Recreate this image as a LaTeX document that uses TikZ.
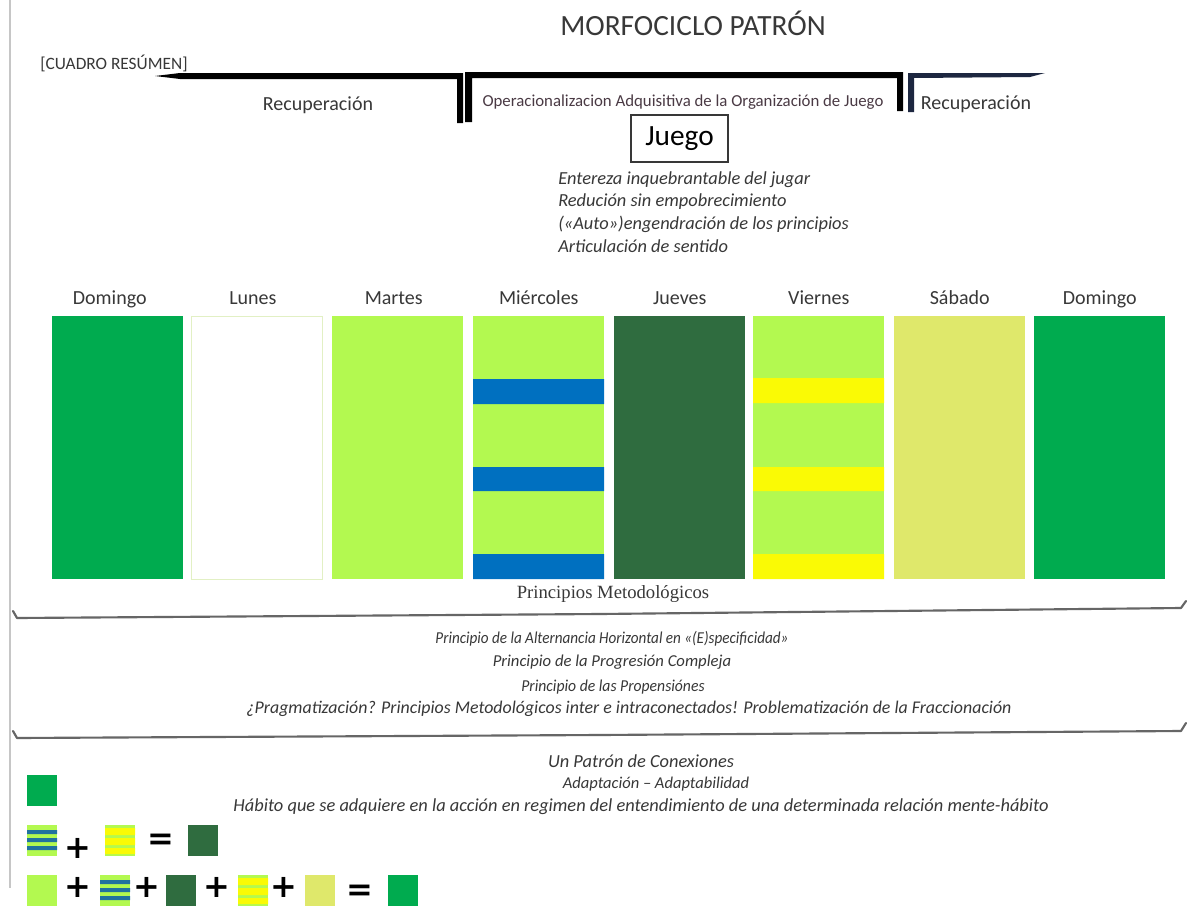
\documentclass[tikz,border=0pt]{standalone}
\usepackage{fontspec}
\setmainfont{Carlito}
\newfontfamily\serifa{Liberation Serif}
\newfontfamily\signos{DejaVu Sans}
\usetikzlibrary{positioning}

\definecolor{verde}{HTML}{00AB4F}
\definecolor{lima}{HTML}{B3F950}
\definecolor{azul}{HTML}{0070C0}
\definecolor{azulleg}{HTML}{21739F}
\definecolor{oscuro}{HTML}{2F6C3F}
\definecolor{amarillo}{HTML}{FAFA05}
\definecolor{sabado}{HTML}{DFE86B}
\definecolor{texto}{HTML}{383838}
\definecolor{granate}{HTML}{4A3A44}
\definecolor{marino}{HTML}{1D2740}
\definecolor{lunesborde}{HTML}{E2F0C4}

\begin{document}
\begin{tikzpicture}[x=0.75pt, y=-0.75pt,
    dia/.style={font=\fontsize{15}{18}\selectfont, text=texto, inner sep=0pt,
      text height=0.75em, text depth=0.25em},
    barra/.style={anchor=north west, inner sep=0pt,
      minimum width=98.25pt, minimum height=197.25pt},
    nota/.style={font=\fontsize{13.8}{16}\selectfont\itshape, text=texto, inner sep=0pt},
    cuadro/.style={anchor=north west, inner sep=0pt,
      minimum width=22.5pt, minimum height=23pt},
    signo/.style={font=\signos\bfseries\fontsize{24}{24}\selectfont, inner sep=0pt},
    borde/.style={line width=1.6pt, color=black!60, line cap=round, line join=round}]

    \useasboundingbox (0,0) rectangle (1204,907);
    \fill[white] (0,0) rectangle (1204,907);
    \draw[gray!45, line width=1pt] (10,0) -- (10,888);

    % cabecera
    \node[font=\fontsize{22}{26}\selectfont, text=texto] (titulo) at (693,23) {MORFOCICLO PATRÓN};
    \node[font=\fontsize{13}{15}\selectfont, text=texto] (cuadro) at (114,63) {[CUADRO RESÚMEN]};

    \fill[black] (155,76) -- (180,73) -- (463,73) -- (463,123) -- (457,123)
      -- (457,79) -- (180,79) -- cycle;
    \fill[black] (465,122) -- (465,72) -- (903,72) -- (903,111) -- (897,111)
      -- (897,78) -- (472,78) -- (472,122) -- cycle;
    \fill[marino] (908,112) -- (908,73) -- (1045,73) -- (1030,77) -- (914,78)
      -- (914,112) -- cycle;

    \node[font=\fontsize{15}{18}\selectfont, text=texto] (rec1) at (318,105) {Recuperación};
    \node[font=\fontsize{12.6}{15}\selectfont, text=granate] (oper) at (683,102)
      {Operacionalizacion Adquisitiva de la Organización de Juego};
    \node[font=\fontsize{15}{18}\selectfont, text=texto] (rec2) at (976,104) {Recuperación};

    \node[draw=texto, line width=1.2pt, minimum width=72.75pt, minimum height=35.25pt,
      inner sep=0pt, font=\fontsize{22}{26}\selectfont, text=black] (juego) at (679.5,138.5) {Juego};

    \node[nota, anchor=west] (ent) at (558,180) {Entereza inquebrantable del jugar};
    \node[nota, anchor=west] (red) at (558,202) {Redución sin empobrecimiento};
    \node[nota, anchor=west] (auto) at (558,224) {(«Auto»)engendración de los principios};
    \node[nota, anchor=west] (art) at (558,246) {Articulación de sentido};

    % semana
    \node[barra, fill=verde] (dom1) at (52,316) {};
    \node[barra, fill=white, draw=lunesborde, line width=0.6pt] (lun) at (191,316) {};
    \node[barra, fill=lima] (mar) at (332,316) {};
    \node[barra, fill=lima] (mie) at (473,316) {};
    \node[barra, fill=oscuro] (jue) at (614,316) {};
    \node[barra, fill=lima] (vie) at (753,316) {};
    \node[barra, fill=sabado] (sab) at (894,316) {};
    \node[barra, fill=verde] (dom2) at (1034,316) {};

    \fill[azul] (473,379) rectangle (604,404)
      (473,467) rectangle (604,491)
      (473,554) rectangle (604,579);
    \fill[amarillo] (753,378) rectangle (884,403)
      (753,467) rectangle (884,491)
      (753,554) rectangle (884,579);

    \node[dia, above=6pt of dom1, xshift=-6pt] (tdom1) {Domingo};
    \node[dia, above=6pt of lun, xshift=-3pt] (tlun) {Lunes};
    \node[dia, above=6pt of mar, xshift=-3pt] (tmar) {Martes};
    \node[dia, above=6pt of mie] (tmie) {Miércoles};
    \node[dia, above=6pt of jue] (tjue) {Jueves};
    \node[dia, above=6pt of vie] (tvie) {Viernes};
    \node[dia, above=6pt of sab] (tsab) {Sábado};
    \node[dia, above=6pt of dom2] (tdom2) {Domingo};

    % principios
    \node[font=\serifa\fontsize{14}{16}\selectfont, text=texto] (princ) at (613,594) {Principios Metodológicos};
    \draw[borde] (13,611) -- (17,618) -- (600,614) -- (1181,608) -- (1186,601);

    \node[nota, font=\fontsize{12.5}{15}\selectfont\itshape] (alt) at (612,639)
      {\scalebox{0.91}[1]{Principio de la Alternancia Horizontal en «(E)specificidad»}};
    \node[nota, font=\fontsize{12.5}{15}\selectfont\itshape] (prog) at (612,662) {Principio de la Progresión Compleja};
    \node[nota, font=\fontsize{12.5}{15}\selectfont\itshape] (prop) at (613,687)
      {\scalebox{0.94}[1]{Principio de las Propensiónes}};
    \node[nota, font=\fontsize{13.4}{15}\selectfont\itshape] (prag) at (629,709) {¿Pragmatización? Principios Metodológicos inter e intraconectados! Problematización de la Fraccionación};
    \draw[borde] (13,731) -- (17,738) -- (600,735) -- (1181,731) -- (1186,723);

    \node[nota] (patron) at (641,761) {Un Patrón de Conexiones};
    \node[nota, font=\fontsize{12.4}{15}\selectfont\itshape] (adap) at (656,784) {Adaptación – Adaptabilidad};
    \node[nota] (habito) at (641,807) {Hábito que se adquiere en la acción en regimen del entendimiento de una determinada relación mente-hábito};

    % leyenda
    \node[cuadro, fill=verde] (leg1) at (27,775) {};

    \node[cuadro, fill=lima] (leg2a) at (27,825) {};
    \fill[azulleg] (27,830) rectangle (57,834) (27,838) rectangle (57,842) (27,846) rectangle (57,850);
    \node[signo] (mas1) at (78,848) {+};
    \node[cuadro, fill=lima] (leg2b) at (105,825) {};
    \fill[amarillo] (105,828) rectangle (135,835) (105,838) rectangle (135,845) (105,848) rectangle (135,854);
    \node[signo] (igual1) at (161,842) {=};
    \node[cuadro, fill=oscuro] (leg2c) at (188,825) {};

    \node[cuadro, fill=lima] (leg3a) at (27,875) {};
    \node[signo] (mas2) at (78,887) {+};
    \node[cuadro, fill=lima] (leg3b) at (100,875) {};
    \fill[azulleg] (100,880) rectangle (130,884) (100,888) rectangle (130,892) (100,896) rectangle (130,900);
    \node[signo] (mas3) at (147,887) {+};
    \node[cuadro, fill=oscuro] (leg3c) at (166,875) {};
    \node[signo] (mas4) at (217,887) {+};
    \node[cuadro, fill=lima] (leg3d) at (238,875) {};
    \fill[amarillo] (238,878) rectangle (268,885) (238,888) rectangle (268,895) (238,898) rectangle (268,904);
    \node[signo] (mas5) at (284,887) {+};
    \node[cuadro, fill=sabado] (leg3e) at (305,875) {};
    \node[signo] (igual2) at (360,893) {=};
    \node[cuadro, fill=verde] (leg3f) at (388,875) {};

\end{tikzpicture}
\end{document}
